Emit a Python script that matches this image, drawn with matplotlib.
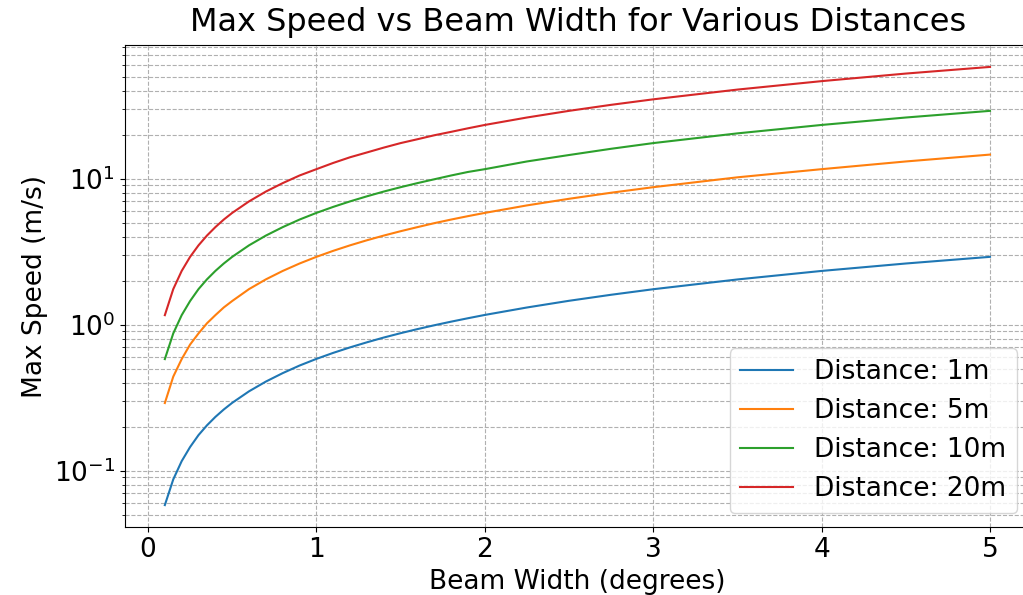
import matplotlib
matplotlib.use('Agg')
import matplotlib.pyplot as plt

# beam width in degrees
beam_width = [0.1, 0.15, 0.2, 0.25, 0.3, 0.35, 0.4, 0.45, 0.5, 0.6, 0.7, 0.8, 0.9, 1.0,
              1.1, 1.2, 1.3, 1.4, 1.5, 1.6, 1.7, 1.8, 1.9, 2.0,
              2.25, 2.5, 2.75, 3.0, 3.5, 4.0, 4.5, 5.0]

# max speed (m/s) for each distance
speed_1m = [0.058, 0.087, 0.116, 0.145, 0.175, 0.204, 0.233, 0.262, 0.291, 0.349, 0.407, 0.465, 0.524, 0.582,
            0.640, 0.698, 0.756, 0.815, 0.873, 0.931, 0.989, 1.047, 1.105, 1.164,
            1.309, 1.455, 1.600, 1.746, 2.037, 2.33, 2.62, 2.91]
speed_5m = [0.29, 0.44, 0.58, 0.73, 0.87, 1.02, 1.16, 1.31, 1.45, 1.75, 2.04, 2.33, 2.62, 2.91,
            3.20, 3.49, 3.78, 4.07, 4.36, 4.65, 4.95, 5.24, 5.53, 5.82,
            6.55, 7.27, 8.00, 8.73, 10.2, 11.6, 13.1, 14.6]
speed_10m = [0.58, 0.87, 1.16, 1.45, 1.75, 2.04, 2.33, 2.62, 2.91, 3.49, 4.07, 4.65, 5.24, 5.82,
             6.40, 6.98, 7.56, 8.15, 8.73, 9.31, 9.89, 10.5, 11.1, 11.6,
             13.1, 14.5, 16.0, 17.5, 20.4, 23.3, 26.2, 29.1]
speed_20m = [1.16, 1.75, 2.33, 2.91, 3.49, 4.07, 4.65, 5.24, 5.82, 6.98, 8.15, 9.31, 10.5, 11.6,
             12.8, 14.0, 15.1, 16.3, 17.5, 18.6, 19.8, 20.9, 22.1, 23.3,
             26.2, 29.1, 32.0, 34.9, 40.7, 46.5, 52.4, 58.2]

distances = ['1m', '5m', '10m', '20m']
speeds = [speed_1m, speed_5m, speed_10m, speed_20m]

fig = plt.figure(figsize=(10.23, 5.95), dpi=100)
# right edge of the axes runs past the canvas, as in the cropped original
ax = fig.add_axes([125/1023, 68/595, 960/1023, 482/595])

for d, s in zip(distances, speeds):
    ax.plot(beam_width, s, label='Distance: ' + d)

ax.set_yscale('log')
ax.set_xlim(-0.1366, -0.1366 + 960/168.4)
fig.text(578/1023, 1 - 22/595, 'Max Speed vs Beam Width for Various Distances',
         fontsize=23, ha='center', va='center')
ax.set_xlabel('Beam Width (degrees)', fontsize=19)
ax.xaxis.set_label_coords((577 - 125)/960, -0.087)
ax.set_ylabel('Max Speed (m/s)', fontsize=19)
ax.tick_params(labelsize=19)
ax.legend(fontsize=19, loc='lower right', bbox_to_anchor=(1017/1023, 82/595),
          bbox_transform=fig.transFigure, borderaxespad=0)
ax.grid(True, which='both', ls='--')

fig.savefig('out.png', dpi=100)
